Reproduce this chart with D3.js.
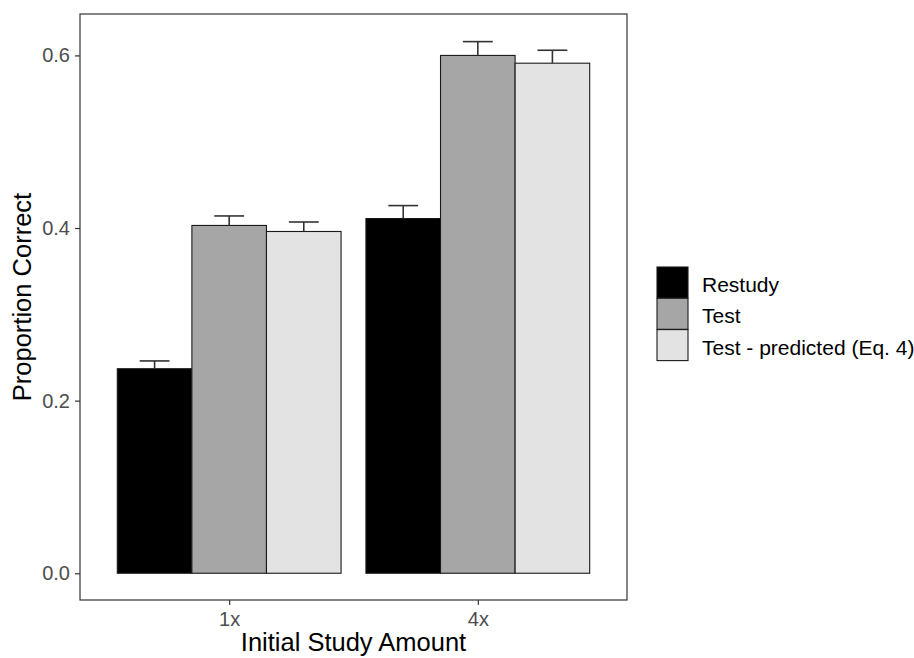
<!DOCTYPE html>
<html>
<head>
<meta charset="utf-8">
<script src="https://cdn.jsdelivr.net/npm/d3@7"></script>
<style>
body { margin: 0; background: #fff; }
svg { font-family: "Liberation Sans", Arial, sans-serif; }
</style>
</head>
<body>
<div id="main"></div>
<script>
var width = 914,
    height = 658;

// data
var amounts = ["1x", "4x"];
var conditions = ["Restudy", "Test", "Test - predicted (Eq. 4)"];
var means = [
    [0.237, 0.403, 0.396],
    [0.411, 0.600, 0.591]
];
var upper = [
    [0.246, 0.414, 0.407],
    [0.426, 0.616, 0.606]
];
var yTicks = [0.0, 0.2, 0.4, 0.6];
var fills = ["#000000", "#a6a6a6", "#e3e3e3"];

var panel = {left: 80, right: 627, top: 14, bottom: 600};

var svg = d3.select("div#main").append("svg")
    .attr("width", width)
    .attr("height", height);

var y = d3.scaleLinear()
    .domain([-0.031, 0.648])
    .range([panel.bottom, panel.top]);

// discrete x: ggplot style, 0.6 units of expansion on each side
var x = d3.scalePoint()
    .domain(amounts)
    .range([panel.left, panel.right])
    .padding(0.6);

var step = x.step();
var groupW = 0.9 * step;
var x1 = d3.scaleBand()
    .domain(d3.range(conditions.length))
    .range([-groupW / 2, groupW / 2]);

var rows = [];
amounts.forEach(function(a, i) {
    conditions.forEach(function(c, j) {
        rows.push({amount: a, k: j, mean: means[i][j], up: upper[i][j]});
    });
});

function barX(d) { return x(d.amount) + x1(d.k); }
function barMid(d) { return barX(d) + x1.bandwidth() / 2; }

// bars
svg.selectAll(".bar")
    .data(rows)
    .enter().append("rect")
    .attr("class", "bar")
    .attr("x", barX)
    .attr("width", x1.bandwidth())
    .attr("y", function(d) { return y(d.mean); })
    .attr("height", function(d) { return y(0) - y(d.mean); })
    .attr("fill", function(d) { return fills[d.k]; })
    .attr("stroke", "#1a1a1a")
    .attr("stroke-width", 1.1);

// error bars (upper half only)
var capW = x1.bandwidth() * 0.4;
var eb = svg.selectAll(".err")
    .data(rows)
    .enter().append("g")
    .attr("class", "err")
    .attr("stroke", "#333")
    .attr("stroke-width", 1.6);

eb.append("line")
    .attr("x1", barMid)
    .attr("x2", barMid)
    .attr("y1", function(d) { return y(d.mean); })
    .attr("y2", function(d) { return y(d.up); });

eb.append("line")
    .attr("x1", function(d) { return barMid(d) - capW / 2; })
    .attr("x2", function(d) { return barMid(d) + capW / 2; })
    .attr("y1", function(d) { return y(d.up); })
    .attr("y2", function(d) { return y(d.up); });

// panel border
svg.append("rect")
    .attr("x", panel.left)
    .attr("y", panel.top)
    .attr("width", panel.right - panel.left)
    .attr("height", panel.bottom - panel.top)
    .attr("fill", "none")
    .attr("stroke", "#333")
    .attr("stroke-width", 1.2);

// y axis
var yAxis = svg.append("g")
    .attr("transform", `translate(${panel.left},0)`)
    .call(d3.axisLeft(y).tickValues(yTicks).tickFormat(d3.format(".1f")).tickSize(5).tickPadding(5));
yAxis.select(".domain").remove();
yAxis.selectAll(".tick line").attr("stroke", "#333").attr("stroke-width", 1.2);
yAxis.selectAll(".tick text").attr("fill", "#4d4d4d").style("font-size", "20px");

// x axis
var xAxis = svg.append("g")
    .attr("transform", `translate(0,${panel.bottom})`)
    .call(d3.axisBottom(x).tickSize(5).tickPadding(7));
xAxis.select(".domain").remove();
xAxis.selectAll(".tick line").attr("stroke", "#333").attr("stroke-width", 1.2);
xAxis.selectAll(".tick text").attr("fill", "#4d4d4d").style("font-size", "20px");

// axis titles
svg.append("text")
    .attr("x", (panel.left + panel.right) / 2)
    .attr("y", 651)
    .attr("text-anchor", "middle")
    .style("font-size", "25.5px")
    .text("Initial Study Amount");

svg.append("text")
    .attr("transform", "translate(31,297) rotate(-90)")
    .attr("text-anchor", "middle")
    .style("font-size", "25.5px")
    .text("Proportion Correct");

// legend
var legend = svg.append("g")
    .attr("transform", "translate(657,267)");

var item = legend.selectAll(".item")
    .data(conditions)
    .enter().append("g")
    .attr("class", "item")
    .attr("transform", function(d, i) { return `translate(0,${i * 31.3})`; });

item.append("rect")
    .attr("width", 31)
    .attr("height", 31)
    .attr("fill", function(d, i) { return fills[i]; })
    .attr("stroke", "#1a1a1a")
    .attr("stroke-width", 1.1);

item.append("text")
    .attr("x", 45)
    .attr("y", 25)
    .style("font-size", "21px")
    .text(function(d) { return d; });
</script>
</body>
</html>
